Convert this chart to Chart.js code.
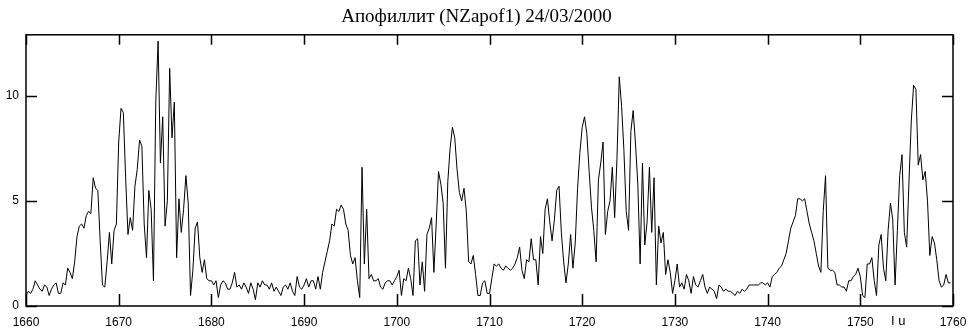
<!DOCTYPE html>
<html>
<head>
<meta charset="utf-8">
<script src="https://cdn.jsdelivr.net/npm/chart.js@4.4.1/dist/chart.umd.min.js"></script>
<style>
    html, body { margin: 0; padding: 0; background: #fff; }
    #wrap { width: 969px; height: 331px; }
</style>
</head>
<body>
<div id="wrap"><canvas id="chart" width="969" height="331"></canvas></div>
<script>
const chartTitle = 'Апофиллит (NZapof1) 24/03/2000';
const startYear = 1660;
const stepYear = 0.25;
const xTicks = [1660, 1670, 1680, 1690, 1700, 1710, 1720, 1730, 1740, 1750, 1760];
const yTicks = [0, 5, 10];

// четыре значения на год (по кварталам)
const values = [
    // 1660-1669
    0.5, 0.7, 0.6, 0.8,
    1.2, 1.0, 0.8, 0.7,
    1.0, 0.9, 0.5, 0.8,
    1.0, 1.1, 0.6, 0.6,
    1.1, 1.0, 1.8, 1.6,
    1.3, 2.1, 3.3, 3.8,
    3.9, 3.7, 4.3, 4.5,
    4.4, 6.1, 5.6, 5.5,
    3.1, 1.0, 0.9, 2.1,
    3.5, 2.0, 3.6, 3.9,
    // 1670-1679
    7.8, 9.4, 9.2, 6.1,
    3.4, 4.2, 3.6, 5.7,
    6.5, 7.9, 7.6, 3.9,
    2.3, 5.5, 4.6, 1.2,
    9.7, 12.6, 6.8, 9.0,
    3.8, 5.0, 11.3, 8.0,
    9.7, 2.3, 5.1, 3.5,
    4.6, 6.2, 4.9, 0.5,
    1.7, 3.7, 4.0, 2.3,
    1.6, 2.2, 1.3, 1.2,
    // 1680-1689
    1.2, 1.0, 1.2, 0.4,
    1.0, 1.2, 1.1, 0.8,
    0.8, 1.1, 1.6, 0.9,
    1.0, 0.8, 1.1, 0.9,
    0.6, 1.1, 0.8, 0.3,
    1.1, 0.9, 1.2, 1.0,
    1.0, 0.8, 1.1, 0.7,
    0.9, 0.7, 0.5, 0.9,
    1.0, 0.8, 1.1, 0.7,
    0.5, 1.4, 0.9, 0.8,
    // 1690-1699
    1.0, 1.3, 0.9, 1.2,
    1.2, 0.8, 1.4, 0.8,
    1.6, 2.1, 2.6, 3.1,
    3.9, 3.8, 4.6, 4.5,
    4.8, 4.6, 3.9, 3.6,
    2.4, 2.0, 2.3, 1.2,
    0.4, 6.6, 2.0, 4.6,
    1.3, 1.5, 1.2, 1.2,
    1.3, 0.9, 0.8, 1.1,
    1.2, 1.2, 1.0, 1.2,
    // 1700-1709
    1.4, 1.7, 0.5, 1.3,
    1.2, 1.8, 1.3, 0.5,
    3.1, 3.2, 1.0, 2.1,
    0.7, 3.4, 3.7, 4.2,
    1.6, 3.9, 6.4, 5.8,
    4.9, 1.8, 5.9, 7.5,
    8.5, 8.0, 6.5, 5.4,
    5.0, 5.6, 4.5, 2.1,
    2.0, 2.4, 1.5, 0.5,
    0.5, 1.1, 1.2, 0.6,
    // 1710-1719
    0.6, 1.3, 2.0, 1.9,
    2.0, 1.8, 1.7, 1.9,
    1.8, 1.7, 1.8, 2.0,
    2.3, 2.8, 1.7, 1.3,
    2.2, 2.1, 3.2, 2.2,
    2.2, 1.0, 3.3, 2.5,
    4.6, 5.1, 4.0, 3.1,
    4.1, 5.5, 5.7, 3.5,
    2.1, 1.1, 2.0, 3.4,
    1.8, 3.0, 5.6, 7.3,
    // 1720-1729
    8.5, 9.0, 8.2, 6.4,
    4.7, 3.6, 2.1, 6.0,
    6.8, 7.8, 3.4, 4.5,
    5.0, 6.6, 4.2, 7.0,
    10.9, 9.5, 7.4, 4.5,
    3.6, 8.3, 9.3, 7.7,
    5.8, 2.0, 6.8, 2.9,
    4.0, 6.6, 3.5, 6.1,
    1.0, 3.8, 3.0, 3.5,
    1.5, 2.2, 1.6, 0.6,
    // 1730-1739
    1.2, 2.0, 0.9, 1.1,
    0.8, 1.5, 1.2, 0.6,
    1.4, 1.0, 0.9, 1.2,
    1.5, 0.9, 0.6, 0.9,
    0.8, 0.7, 0.35, 1.0,
    0.9, 0.7, 0.8, 0.7,
    0.7, 0.6, 0.5, 0.7,
    0.6, 0.8, 0.7, 0.8,
    1.0, 1.0, 1.0, 1.0,
    1.0, 1.1, 1.1, 1.0,
    // 1740-1749
    1.1, 0.9, 1.4, 1.5,
    1.6, 1.8, 1.9, 2.2,
    2.5, 3.1, 3.7, 4.0,
    4.3, 5.1, 5.1, 5.0,
    5.1, 4.5, 3.9, 3.5,
    3.1, 2.5, 1.9, 1.6,
    4.5, 6.2, 1.8, 1.7,
    1.7, 1.6, 1.0, 1.0,
    0.9, 0.9, 0.7, 1.2,
    1.2, 1.4, 1.5, 1.8,
    // 1750-1759
    1.4, 0.5, 0.4, 2.0,
    2.0, 2.3, 1.2, 0.5,
    2.9, 3.4, 1.8, 1.2,
    3.6, 4.9, 4.1, 1.0,
    3.6, 6.2, 7.2, 3.5,
    2.8, 5.9, 8.8, 10.5,
    10.3, 6.7, 7.2, 6.0,
    6.4, 5.0, 2.4, 3.3,
    3.0, 2.2, 1.2, 0.9,
    1.0, 1.5, 1.1, 1.1
];

const points = values.map((v, i) => ({ x: startYear + i * stepYear, y: v }));

// рамка и штрихи внутрь
const framePlugin = {
    id: 'frame',
    afterDraw(chart) {
        const { ctx, chartArea: a, scales } = chart;
        ctx.save();
        ctx.strokeStyle = '#000';
        ctx.lineWidth = 1.5;
        ctx.strokeRect(a.left, a.top, a.right - a.left, a.bottom - a.top);
        ctx.beginPath();
        xTicks.forEach(t => {
            const px = Math.round(scales.x.getPixelForValue(t)) + 0.5;
            ctx.moveTo(px, a.bottom); ctx.lineTo(px, a.bottom - 12);
            ctx.moveTo(px, a.top); ctx.lineTo(px, a.top + 10);
        });
        yTicks.forEach(t => {
            const py = Math.round(scales.y.getPixelForValue(t)) + 0.5;
            ctx.moveTo(a.left, py); ctx.lineTo(a.left + 11, py);
            ctx.moveTo(a.right, py); ctx.lineTo(a.right - 11, py);
        });
        ctx.stroke();
        ctx.fillStyle = '#000';
        ctx.font = '13px "Liberation Sans", Arial, sans-serif';
        ctx.textBaseline = 'middle';
        ctx.fillText('I u', 891, 321);
        ctx.restore();
    }
};

new Chart(document.getElementById('chart').getContext('2d'), {
    type: 'line',
    data: {
        datasets: [{
            data: points,
            borderColor: '#000',
            borderWidth: 1,
            pointRadius: 0,
            tension: 0,
            fill: false
        }]
    },
    options: {
        responsive: false,
        animation: false,
        layout: { padding: { left: 0, right: 16, top: 0, bottom: 0 } },
        plugins: {
            legend: { display: false },
            tooltip: { enabled: false },
            title: {
                display: true,
                text: chartTitle,
                color: '#000',
                font: { family: '"Liberation Serif", "Times New Roman", serif', size: 19, weight: 'normal' },
                padding: { top: 6, bottom: 6 }
            }
        },
        scales: {
            x: {
                type: 'linear',
                min: 1660,
                max: 1760,
                afterBuildTicks: s => { s.ticks = xTicks.map(v => ({ value: v })); },
                afterFit: s => { s.height = 25; s.paddingRight = 0; s.paddingLeft = 0; },
                grid: { display: false, drawTicks: false },
                border: { display: false },
                ticks: {
                    color: '#000',
                    padding: 9,
                    maxRotation: 0,
                    callback: v => String(v),
                    font: { family: '"Liberation Sans", Arial, sans-serif', size: 12 }
                }
            },
            y: {
                min: 0,
                max: 12.9,
                afterBuildTicks: s => { s.ticks = yTicks.map(v => ({ value: v })); },
                afterFit: s => { s.width = 26; },
                grid: { display: false, drawTicks: false },
                border: { display: false },
                ticks: {
                    color: '#000',
                    padding: 7,
                    font: { family: '"Liberation Sans", Arial, sans-serif', size: 12 }
                }
            }
        }
    },
    plugins: [framePlugin]
});
</script>
</body>
</html>
